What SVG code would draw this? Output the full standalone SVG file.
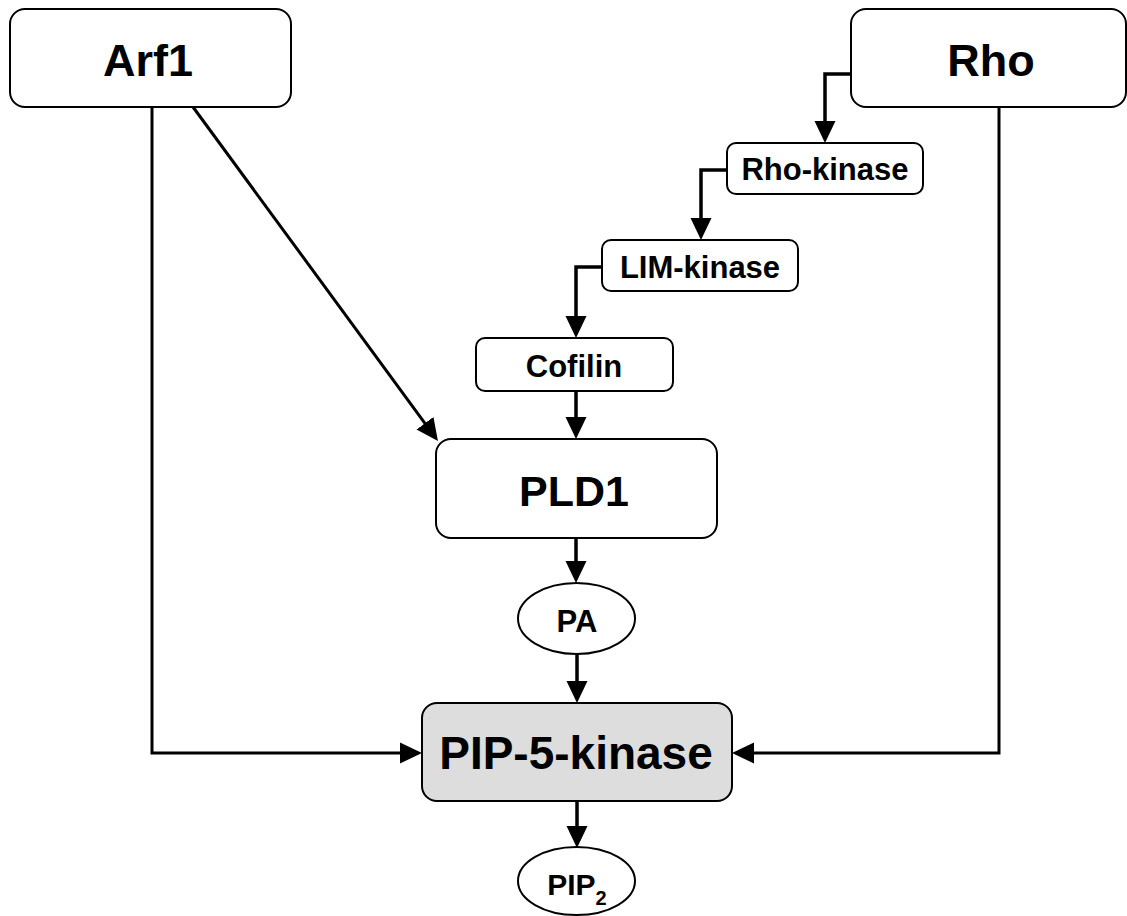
<svg xmlns="http://www.w3.org/2000/svg" width="1127" height="916" viewBox="0 0 1127 916">
<style>
.box{fill:#fff;stroke:#000;stroke-width:2}
.hl{fill:#dddddd;stroke:#000;stroke-width:2}
.t{font-family:"Liberation Sans",Arial,sans-serif;font-weight:bold;fill:#000;text-anchor:middle}
.big{font-size:45px}
.mid{font-size:31px}
.con{fill:none;stroke:#000;stroke-width:3}
.con2{fill:none;stroke:#000;stroke-width:3.5}
</style>
<defs>
<marker id="ah" markerUnits="userSpaceOnUse" markerWidth="22" markerHeight="22" refX="18" refY="11" orient="auto">
<path d="M0,0.5 L22,11 L0,21.5 z" fill="#000"/>
</marker>
</defs>
<rect width="1127" height="916" fill="#fff"/>
<g id="connectors">
<path class="con" d="M152,107 V753 H418" marker-end="url(#ah)"/>
<path class="con" d="M193,107 L435.6,437.8" marker-end="url(#ah)"/>
<path class="con2" d="M851,74 H825 V139" marker-end="url(#ah)"/>
<path class="con2" d="M727,170 H701 V236" marker-end="url(#ah)"/>
<path class="con2" d="M602,267 H576 V334" marker-end="url(#ah)"/>
<path class="con2" d="M576,391 V435" marker-end="url(#ah)"/>
<path class="con2" d="M576,538 V579" marker-end="url(#ah)"/>
<path class="con2" d="M577,654 V699" marker-end="url(#ah)"/>
<path class="con" d="M999,107 V753 H736" marker-end="url(#ah)"/>
<path class="con2" d="M577,801 V844" marker-end="url(#ah)"/>
</g>
<g id="arf1">
<rect class="box" x="10" y="9" width="281" height="98" rx="15"/>
<text class="t big" x="148" y="76">Arf1</text>
</g>
<g id="rho">
<rect class="box" x="851" y="9" width="275" height="98" rx="15"/>
<text class="t big" x="991" y="76">Rho</text>
</g>
<g id="rho-kinase">
<rect class="box" x="727" y="143" width="196" height="51" rx="9"/>
<text class="t mid" x="825" y="180">Rho-kinase</text>
</g>
<g id="lim-kinase">
<rect class="box" x="602" y="240" width="196" height="51" rx="9"/>
<text class="t mid" x="700" y="278">LIM-kinase</text>
</g>
<g id="cofilin">
<rect class="box" x="476" y="338" width="197" height="53" rx="9"/>
<text class="t mid" x="574" y="377">Cofilin</text>
</g>
<g id="pld1">
<rect class="box" x="436" y="439" width="281" height="99" rx="15"/>
<text class="t" style="font-size:43px" x="574" y="506">PLD1</text>
</g>
<g id="pa">
<ellipse class="box" cx="576.5" cy="618.5" rx="58.5" ry="35.5"/>
<text class="t" style="font-size:31px" x="577" y="632">PA</text>
</g>
<g id="pip5k">
<rect class="hl" x="422" y="703" width="310" height="98" rx="15"/>
<text class="t" style="font-size:46px" x="576" y="769">PIP-5-kinase</text>
</g>
<g id="pip2">
<ellipse class="box" cx="576.5" cy="881" rx="58.5" ry="34"/>
<text class="t" style="font-size:30px" x="577" y="895">PIP<tspan style="font-size:20px" dy="10">2</tspan></text>
</g>
</svg>
